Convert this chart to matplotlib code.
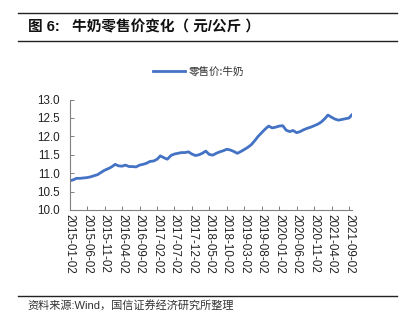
import matplotlib
matplotlib.use("Agg")
import matplotlib.pyplot as plt
import pandas as pd
from matplotlib.lines import Line2D

plt.rcParams['font.family'] = ['Liberation Sans', 'Noto Sans CJK SC', 'DejaVu Sans']

# Monthly retail price of milk (yuan/kg), Jan 2015 - Sep 2021
price = [
    10.79, 10.82, 10.86, 10.86, 10.87, 10.88, 10.90, 10.93, 10.96, 11.02,
    11.08, 11.12, 11.17, 11.24, 11.20, 11.19, 11.22, 11.18, 11.18, 11.17,
    11.22, 11.24, 11.27, 11.32, 11.33, 11.38, 11.47, 11.42, 11.38, 11.48,
    11.52, 11.54, 11.56, 11.56, 11.58, 11.52, 11.48, 11.50, 11.54, 11.60,
    11.51, 11.49, 11.54, 11.58, 11.61, 11.65, 11.63, 11.59, 11.54, 11.59,
    11.64, 11.70, 11.77, 11.88, 12.00, 12.10, 12.20, 12.28, 12.23, 12.25,
    12.28, 12.29, 12.17, 12.13, 12.16, 12.10, 12.13, 12.18, 12.22, 12.25,
    12.29, 12.33, 12.39, 12.48, 12.58, 12.52, 12.47, 12.44, 12.46, 12.48,
    12.50, 12.58,
]
dates = list(pd.date_range("2015-01-01", "2021-09-01", freq="MS") + pd.Timedelta(days=1))
dates.append(pd.Timestamp("2021-09-24"))

tick_labels = [
    "2015-01-02", "2015-06-02", "2015-11-02", "2016-04-02", "2016-09-02",
    "2017-02-02", "2017-07-02", "2017-12-02", "2018-05-02", "2018-10-02",
    "2019-03-02", "2019-08-02", "2020-01-02", "2020-06-02", "2020-11-02",
    "2021-04-02", "2021-09-02",
]
y_ticks = [10.0, 10.5, 11.0, 11.5, 12.0, 12.5, 13.0]

series_name = "零售价:牛奶"
title = "图 6:   牛奶零售价变化（ 元/公斤 ）"
source = "资料来源:Wind，国信证券经济研究所整理"

fig = plt.figure(figsize=(4.11, 3.28), dpi=100)
ax = fig.add_axes([0.1696, 0.3598, 0.6862, 0.3366])

blue = "#4472C4"
ax.plot(dates, price, color=blue, lw=2.0, solid_joinstyle="round")

ax.set_ylim(10.0, 13.0)
ax.set_yticks(y_ticks)
ax.set_yticklabels([f"{v:.1f}" for v in y_ticks])
ax.set_xlim(pd.Timestamp("2015-01-02"), pd.Timestamp("2021-09-25"))
ax.set_xticks([pd.Timestamp(t) for t in tick_labels])
ax.set_xticklabels(tick_labels, rotation=270, ha="center", va="top")

for s in ["top", "right"]:
    ax.spines[s].set_visible(False)
for s in ["left", "bottom"]:
    ax.spines[s].set_color("#808080")
    ax.spines[s].set_linewidth(0.8)
ax.tick_params(axis="both", direction="in", length=3, width=0.7, color="#808080",
               labelsize=8.4, labelcolor="#222222")
ax.tick_params(axis="x", pad=3)
ax.tick_params(axis="y", pad=7)

# header and footer rules
for yy in (13, 41, 296):
    fig.add_artist(Line2D([18 / 411, 397 / 411], [1 - yy / 328, 1 - yy / 328],
                          color="#222222", lw=1.0, transform=fig.transFigure))

fig.text(28 / 411, 1 - 27 / 328, title, fontsize=10.5, fontweight="bold",
         family=['Liberation Sans', 'Noto Sans CJK SC'], va="center", ha="left",
         color="#111111")

# legend
fig.add_artist(Line2D([153 / 411, 185 / 411], [1 - 71 / 328, 1 - 71 / 328],
                      color=blue, lw=2.0, transform=fig.transFigure))
fig.text(189 / 411, 1 - 71 / 328, series_name, fontsize=7.6, va="center", ha="left",
         family=['Noto Sans CJK SC', 'DejaVu Sans'], color="#333333")

fig.text(27 / 411, 1 - 305 / 328, source, fontsize=8, va="center", ha="left",
         family=['Liberation Sans', 'Noto Sans CJK SC'], color="#333333")

fig.savefig("out.png", dpi=100)
